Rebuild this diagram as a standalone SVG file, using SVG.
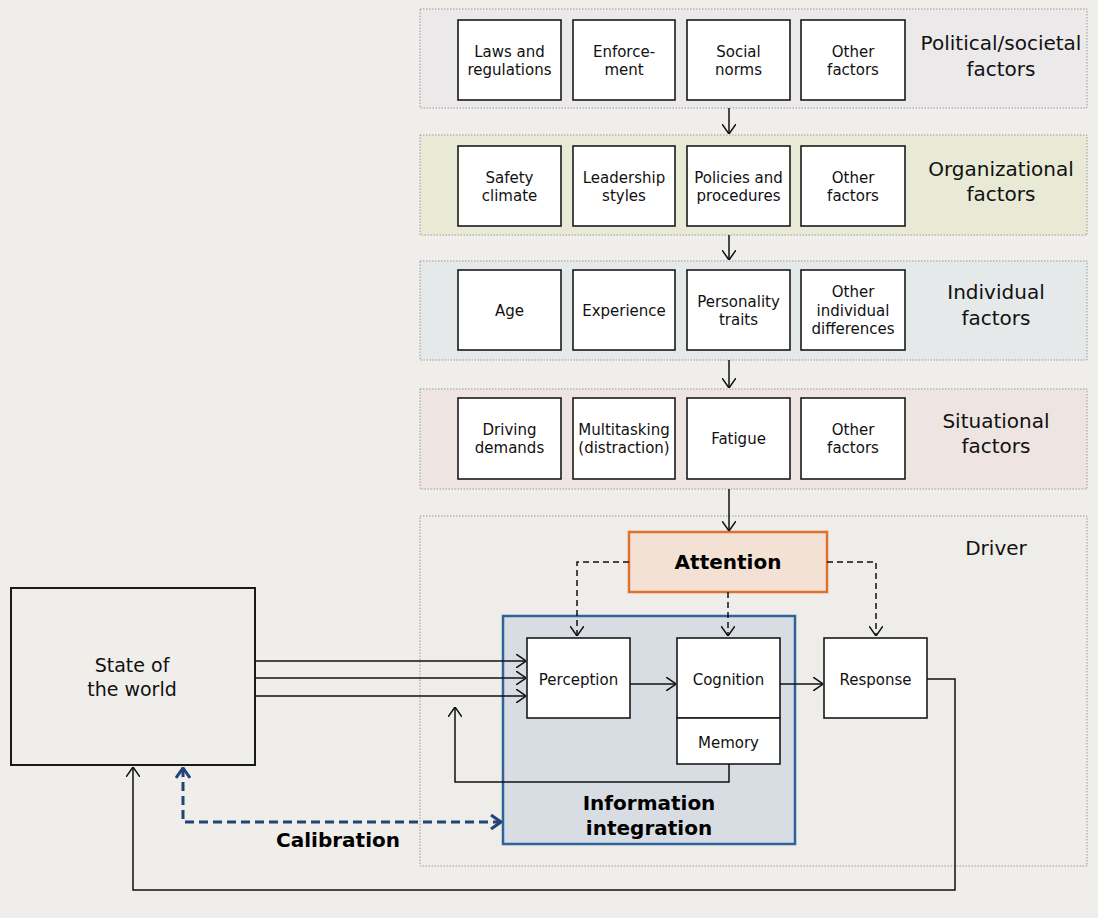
<svg xmlns="http://www.w3.org/2000/svg" width="1098" height="918" viewBox="0 0 1098 918">
<defs>
<style>
.t{font-family:"DejaVu Sans",Verdana,sans-serif;font-size:15px;fill:#111;text-anchor:middle}
.h{font-family:"DejaVu Sans",Verdana,sans-serif;font-size:20px;fill:#111;text-anchor:middle}
.b{font-family:"DejaVu Sans",Verdana,sans-serif;font-size:20px;font-weight:bold;fill:#000;text-anchor:middle}
.box{fill:#fff;stroke:#1a1a1a;stroke-width:1.6}
.layer{stroke:#9a9a9a;stroke-width:1;stroke-dasharray:1.5,1.5}
.ln{fill:none;stroke:#111;stroke-width:1.5}
.dash{fill:none;stroke:#111;stroke-width:1.5;stroke-dasharray:6,4}
.cal{fill:none;stroke:#1F4478;stroke-width:3;stroke-dasharray:9,5}
</style>
<marker id="ah" viewBox="0 0 10 14" refX="10" refY="7" markerWidth="10" markerHeight="14" markerUnits="userSpaceOnUse" orient="auto">
<path d="M0,0 L10,7 L0,14" fill="none" stroke="#111" stroke-width="1.5"/>
</marker>
<marker id="ahb" viewBox="0 0 12 16" refX="11" refY="8" markerWidth="12" markerHeight="16" markerUnits="userSpaceOnUse" orient="auto-start-reverse">
<path d="M1,1 L11,8 L1,15" fill="none" stroke="#1F4478" stroke-width="3"/>
</marker>
</defs>
<rect width="1098" height="918" fill="#EFEEEA"/>

<g id="political">
<rect class="layer" x="420" y="9" width="667" height="99" fill="#EBE9E9"/>
<rect class="box" x="458" y="20" width="103" height="80"/><text class="t" x="509.5" y="57">Laws and</text><text class="t" x="509.5" y="75">regulations</text>
<rect class="box" x="573" y="20" width="102" height="80"/><text class="t" x="624" y="57">Enforce-</text><text class="t" x="624" y="75">ment</text>
<rect class="box" x="687" y="20" width="103" height="80"/><text class="t" x="738.5" y="57">Social</text><text class="t" x="738.5" y="75">norms</text>
<rect class="box" x="801" y="20" width="104" height="80"/><text class="t" x="853" y="57">Other</text><text class="t" x="853" y="75">factors</text>
<text class="h" x="1001" y="50">Political/societal</text><text class="h" x="1001" y="76">factors</text>
</g>

<g id="organizational">
<rect class="layer" x="420" y="135" width="667" height="100" fill="#E8EAD6"/>
<rect class="box" x="458" y="146" width="103" height="80"/><text class="t" x="509.5" y="183">Safety</text><text class="t" x="509.5" y="201">climate</text>
<rect class="box" x="573" y="146" width="102" height="80"/><text class="t" x="624" y="183">Leadership</text><text class="t" x="624" y="201">styles</text>
<rect class="box" x="687" y="146" width="103" height="80"/><text class="t" x="738.5" y="183">Policies and</text><text class="t" x="738.5" y="201">procedures</text>
<rect class="box" x="801" y="146" width="104" height="80"/><text class="t" x="853" y="183">Other</text><text class="t" x="853" y="201">factors</text>
<text class="h" x="1001" y="176">Organizational</text><text class="h" x="1001" y="201">factors</text>
</g>

<g id="individual">
<rect class="layer" x="420" y="261" width="667" height="99" fill="#E6E9E9"/>
<rect class="box" x="458" y="270" width="103" height="80"/><text class="t" x="509.5" y="316">Age</text>
<rect class="box" x="573" y="270" width="102" height="80"/><text class="t" x="624" y="316">Experience</text>
<rect class="box" x="687" y="270" width="103" height="80"/><text class="t" x="738.5" y="307">Personality</text><text class="t" x="738.5" y="325">traits</text>
<rect class="box" x="801" y="270" width="104" height="80"/><text class="t" x="853" y="297">Other</text><text class="t" x="853" y="316">individual</text><text class="t" x="853" y="334">differences</text>
<text class="h" x="996" y="299">Individual</text><text class="h" x="996" y="325">factors</text>
</g>

<g id="situational">
<rect class="layer" x="420" y="389" width="667" height="100" fill="#EEE5E2"/>
<rect class="box" x="458" y="398" width="103" height="81"/><text class="t" x="509.5" y="435">Driving</text><text class="t" x="509.5" y="453">demands</text>
<rect class="box" x="573" y="398" width="102" height="81"/><text class="t" x="624" y="435">Multitasking</text><text class="t" x="624" y="453">(distraction)</text>
<rect class="box" x="687" y="398" width="103" height="81"/><text class="t" x="738.5" y="444">Fatigue</text>
<rect class="box" x="801" y="398" width="104" height="81"/><text class="t" x="853" y="435">Other</text><text class="t" x="853" y="453">factors</text>
<text class="h" x="996" y="428">Situational</text><text class="h" x="996" y="453">factors</text>
</g>

<g id="driver">
<rect class="layer" x="420" y="516" width="667" height="350" fill="#EEEDE9"/>
<text class="h" x="996" y="555">Driver</text>
</g>

<g id="information-integration">
<rect x="503" y="616" width="292" height="228" fill="#D8DCE3" stroke="#2F6399" stroke-width="2.5"/>
<text class="b" x="649" y="810">Information</text><text class="b" x="649" y="835">integration</text>
</g>

<g id="attention">
<rect x="629" y="532" width="198" height="60" fill="#F3E2D4" stroke="#E07030" stroke-width="2.5"/>
<text class="b" x="728" y="569">Attention</text>
</g>

<g id="perception"><rect class="box" x="527" y="638" width="103" height="80"/><text class="t" x="578.5" y="685">Perception</text></g>
<g id="cognition"><rect class="box" x="677" y="638" width="103" height="80"/><text class="t" x="728.5" y="685">Cognition</text></g>
<g id="memory"><rect class="box" x="677" y="718" width="103" height="46"/><text class="t" x="728.5" y="748">Memory</text></g>
<g id="response"><rect class="box" x="824" y="638" width="103" height="80"/><text class="t" x="875.5" y="685">Response</text></g>

<g id="state-of-the-world">
<rect x="11" y="588" width="244" height="177" fill="#EFEEEA" stroke="#1a1a1a" stroke-width="2"/>
<text class="h" x="132" y="672" style="font-size:19px">State of</text><text class="h" x="132" y="696" style="font-size:19px">the world</text>
</g>

<g id="connectors">
<line class="ln" x1="729" y1="108" x2="729" y2="134" marker-end="url(#ah)"/>
<line class="ln" x1="729" y1="235" x2="729" y2="260" marker-end="url(#ah)"/>
<line class="ln" x1="729" y1="360" x2="729" y2="388" marker-end="url(#ah)"/>
<line class="ln" x1="729" y1="489" x2="729" y2="531" marker-end="url(#ah)"/>
<path class="dash" d="M629,562 H577 V636" marker-end="url(#ah)"/>
<path class="dash" d="M728,592 V636" marker-end="url(#ah)"/>
<path class="dash" d="M827,562 H876 V636" marker-end="url(#ah)"/>
<line class="ln" x1="255" y1="661" x2="526" y2="661" marker-end="url(#ah)"/>
<line class="ln" x1="255" y1="678" x2="526" y2="678" marker-end="url(#ah)"/>
<line class="ln" x1="255" y1="696" x2="526" y2="696" marker-end="url(#ah)"/>
<line class="ln" x1="630" y1="684" x2="676" y2="684" marker-end="url(#ah)"/>
<line class="ln" x1="780" y1="684" x2="823" y2="684" marker-end="url(#ah)"/>
<path class="ln" d="M729,764 V782 H455 V707" marker-end="url(#ah)"/>
<path class="ln" d="M927,679 H955 V890 H133 V767" marker-end="url(#ah)"/>
<path class="cal" d="M183,768 V822 H501" marker-start="url(#ahb)" marker-end="url(#ahb)"/>
<text class="b" x="338" y="847">Calibration</text>
</g>
</svg>
